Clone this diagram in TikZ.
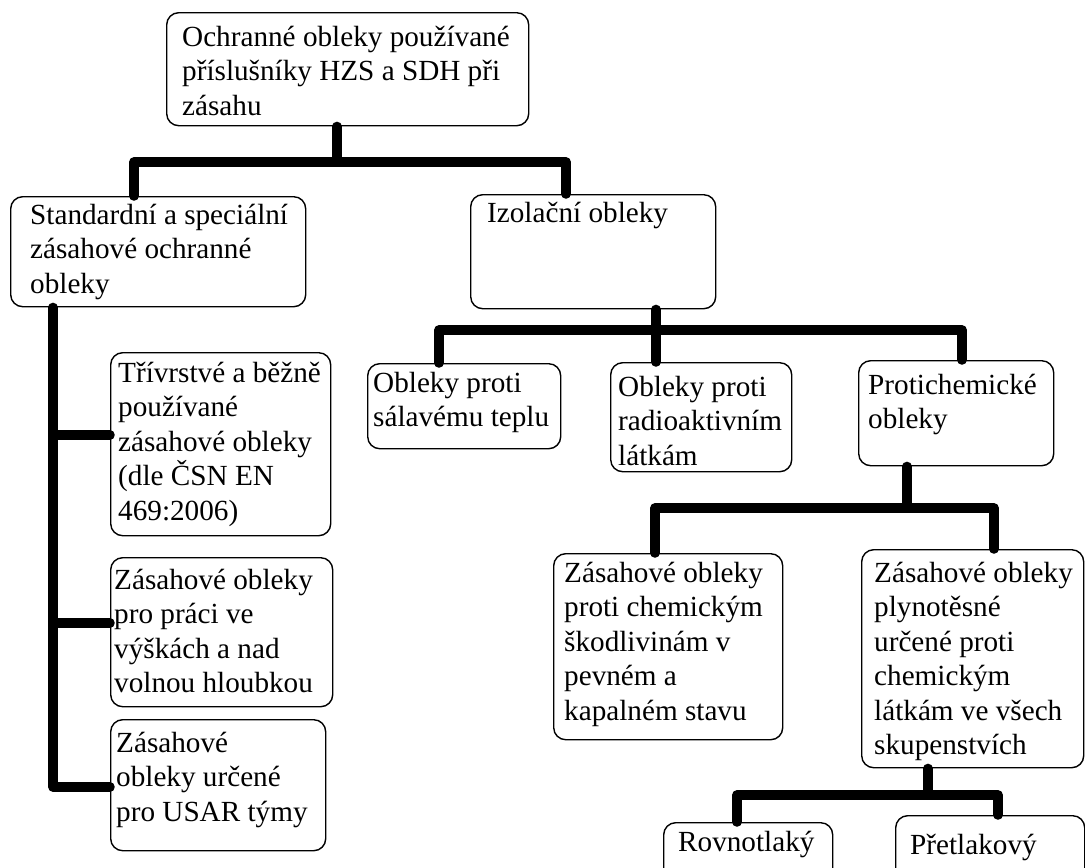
\documentclass[tikz,border=0pt]{standalone}
\usepackage{fontspec}
\setmainfont{Liberation Serif}
\begin{document}
\begin{tikzpicture}[x=1pt,y=-1pt,
  box/.style={draw, line width=1.4pt, rounded corners=12pt, anchor=north west, inner sep=0pt},
  txt/.style={anchor=north west, inner sep=0pt, align=left, font=\fontsize{29.2}{34.5}\selectfont},
  tree/.style={line width=9.5pt, line cap=round, line join=round}]
\useasboundingbox (0,0) rectangle (1085,868);
\fill[white] (0,0) rectangle (1085,868);
\newcommand{\st}{\rule{0pt}{26pt}}
% boxes
\node[box, minimum width=362pt, minimum height=113pt] (root) at (166,12) {};
\node[box, minimum width=295pt, minimum height=110pt] (std) at (10,196) {};
\node[box, minimum width=245pt, minimum height=114pt] (iz) at (470,194) {};
\node[box, minimum width=193pt, minimum height=85pt] (sal) at (367,363) {};
\node[box, minimum width=181pt, minimum height=109pt] (rad) at (610,362) {};
\node[box, minimum width=195pt, minimum height=105pt] (pch) at (858,360) {};
\node[box, minimum width=220pt, minimum height=183pt] (tri) at (110,352) {};
\node[box, minimum width=222pt, minimum height=149pt] (vys) at (110,557) {};
\node[box, minimum width=215pt, minimum height=131pt] (usar) at (110,719) {};
\node[box, minimum width=229pt, minimum height=186pt] (chk) at (553,553) {};
\node[box, minimum width=222pt, minimum height=218pt] (ply) at (861,549) {};
\node[box, minimum width=169pt, minimum height=58pt] (rov) at (663,822) {};
\node[box, minimum width=189pt, minimum height=65pt] (pre) at (895,815) {};
% texts
\node[txt] (t-root) at (182,20) {\st Ochranné obleky používané\\příslušníky HZS a SDH při\\zásahu};
\node[txt] (t-std) at (30,198) {\st Standardní a speciální\\zásahové ochranné\\obleky};
\node[txt] (t-iz) at (487,196) {\st Izolační obleky};
\node[txt] (t-sal) at (373,366) {\st Obleky proti\\sálavému teplu};
\node[txt] (t-rad) at (618,370) {\st Obleky proti\\radioaktivním\\látkám};
\node[txt] (t-pch) at (868,368) {\st Protichemické\\obleky};
\node[txt] (t-tri) at (118,356) {\st Třívrstvé a běžně\\používané\\zásahové obleky\\(dle ČSN EN\\469:2006)};
\node[txt] (t-vys) at (114,563) {\st Zásahové obleky\\pro práci ve\\výškách a nad\\volnou hloubkou};
\node[txt] (t-usar) at (116,726) {\st Zásahové\\obleky určené\\pro USAR týmy};
\node[txt] (t-chk) at (564,556) {\st Zásahové obleky\\proti chemickým\\škodlivinám v\\pevném a\\kapalném stavu};
\node[txt] (t-ply) at (874,556) {\st Zásahové obleky\\plynotěsné\\určené proti\\chemickým\\látkám ve všech\\skupenstvích};
\node[txt] (t-rov) at (678,825) {\st Rovnotlaký};
\node[txt] (t-pre) at (910,828) {\st Přetlakový};
% junction coordinates
\coordinate (a0) at (337,162);
\coordinate (a1) at (134,162);
\coordinate (a2) at (566,162);
\coordinate (b0) at (656,330);
\coordinate (b1) at (439,330);
\coordinate (b2) at (962,330);
\coordinate (c0) at (907,508);
\coordinate (c1) at (655,508);
\coordinate (c2) at (994,508);
\coordinate (d0) at (928,795);
\coordinate (d1) at (737,795);
\coordinate (d2) at (998,795);
\coordinate (e0) at (53,787);
\coordinate (e1) at (53,435);
\coordinate (e2) at (53,623);
% connectors
\draw[tree] (root.south -| a0) -- (a0);
\draw[tree] (std.north -| a1) -- (a1) -- (a2) -- (iz.north -| a2);
\draw[tree] (iz.south -| b0) -- (b0);
\draw[tree] (sal.north -| b1) -- (b1) -- (b2) -- (pch.north -| b2);
\draw[tree] (b0) -- (rad.north -| b0);
\draw[tree] (pch.south -| c0) -- (c0);
\draw[tree] (chk.north -| c1) -- (c1) -- (c2) -- (ply.north -| c2);
\draw[tree] (ply.south -| d0) -- (d0);
\draw[tree] (rov.north -| d1) -- (d1) -- (d2) -- (pre.north -| d2);
\draw[tree] (std.south -| e0) -- (e0) -- (usar.west |- e0);
\draw[tree] (e1) -- (tri.west |- e1);
\draw[tree] (e2) -- (vys.west |- e2);
\end{tikzpicture}
\end{document}
